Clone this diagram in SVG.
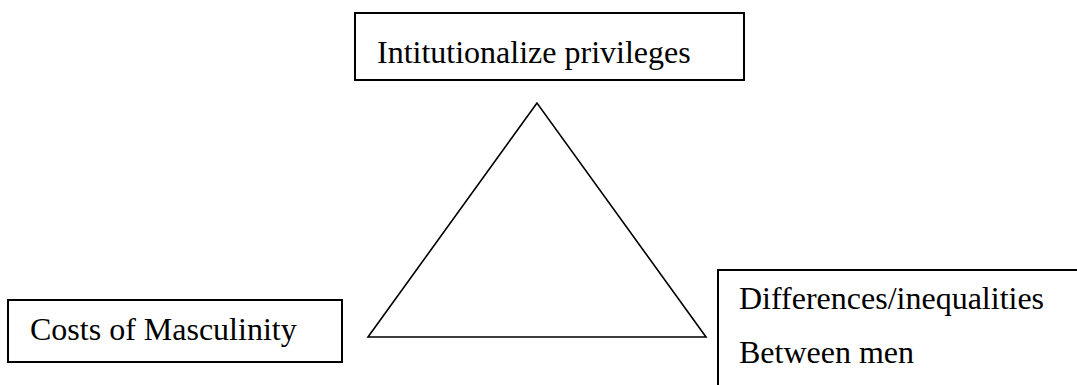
<svg xmlns="http://www.w3.org/2000/svg" width="1077" height="385" viewBox="0 0 1077 385">
<style>
.box{fill:#fff;stroke:#000;stroke-width:2}
.tri{fill:none;stroke:#000;stroke-width:1.6;stroke-linejoin:miter}
.lbl{font-family:"Liberation Serif","Times New Roman",serif;font-size:32px;fill:#000}
</style>
<rect width="1077" height="385" fill="#fff"/>
<g id="connectors">
<polygon class="tri" points="537,103 368,337 706,337"/>
</g>
<g id="node-top">
<rect class="box" x="355" y="13" width="389" height="67"/>
<text class="lbl" x="377" y="63">Intitutionalize privileges</text>
</g>
<g id="node-left">
<rect class="box" x="8" y="300" width="334" height="62"/>
<text class="lbl" x="30" y="340">Costs of Masculinity</text>
</g>
<g id="node-right">
<rect class="box" x="718" y="270" width="380" height="140"/>
<text class="lbl" x="739" y="309">Differences/inequalities</text>
<text class="lbl" x="739" y="363">Between men</text>
</g>
</svg>
